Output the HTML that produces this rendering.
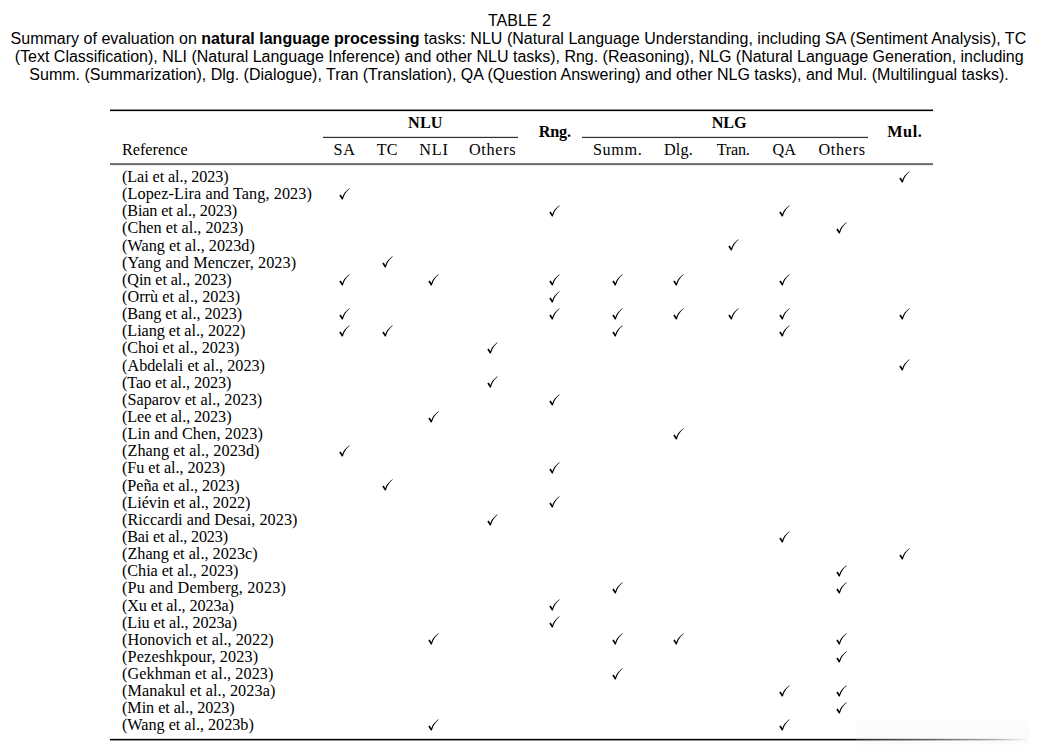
<!DOCTYPE html>
<html><head><meta charset="utf-8"><style>
html,body{margin:0;padding:0;background:#fff;}
body{width:1042px;height:752px;position:relative;overflow:hidden;color:#000;}
.cap{position:absolute;left:-2.6px;width:1042px;text-align:center;font-family:"Liberation Sans",sans-serif;font-size:16px;line-height:18px;white-space:nowrap;}
.t{position:absolute;font-family:"Liberation Serif",serif;white-space:nowrap;line-height:17.14px;height:17.14px;}
.r{position:absolute;background:#000;}
.c{position:absolute;width:12px;height:12px;}
</style></head><body>

<div class="cap" style="top:11.5px;margin-left:1.0px;letter-spacing:0px">TABLE 2</div>
<div class="cap" style="top:29.5px;margin-left:0.0px;letter-spacing:0.016px">Summary of evaluation on <b>natural language processing</b> tasks: NLU (Natural Language Understanding, including SA (Sentiment Analysis), TC</div>
<div class="cap" style="top:47.5px;margin-left:0.8px;letter-spacing:-0.011px">(Text Classification), NLI (Natural Language Inference) and other NLU tasks), Rng. (Reasoning), NLG (Natural Language Generation, including</div>
<div class="cap" style="top:65.5px;margin-left:0.6px;letter-spacing:0px">Summ. (Summarization), Dlg. (Dialogue), Tran (Translation), QA (Question Answering) and other NLG tasks), and Mul. (Multilingual tasks).</div>
<div class="r" style="left:110px;width:823px;top:109px;height:1px;background:rgb(140,140,140)"></div>
<div class="r" style="left:110px;width:823px;top:110px;height:1px;background:rgb(0,0,0)"></div>
<div class="r" style="left:110px;width:823px;top:111px;height:1px;background:rgb(225,225,225)"></div>
<div class="r" style="left:323px;width:195px;top:136px;height:1px;background:rgb(215,215,215)"></div>
<div class="r" style="left:323px;width:195px;top:137px;height:1px;background:rgb(50,50,50)"></div>
<div class="r" style="left:323px;width:195px;top:138px;height:1px;background:rgb(245,245,245)"></div>
<div class="r" style="left:582px;width:286px;top:136px;height:1px;background:rgb(215,215,215)"></div>
<div class="r" style="left:582px;width:286px;top:137px;height:1px;background:rgb(50,50,50)"></div>
<div class="r" style="left:582px;width:286px;top:138px;height:1px;background:rgb(245,245,245)"></div>
<div class="r" style="left:110px;width:823px;top:162px;height:1px;background:rgb(250,250,250)"></div>
<div class="r" style="left:110px;width:823px;top:163px;height:1px;background:rgb(125,125,125)"></div>
<div class="r" style="left:110px;width:823px;top:164px;height:1px;background:rgb(105,105,105)"></div>
<div class="r" style="left:110px;width:823px;top:165px;height:1px;background:rgb(235,235,235)"></div>
<div class="r" style="left:110px;width:746px;top:738px;height:1px;background:rgb(215,215,215)"></div>
<div class="r" style="left:110px;width:746px;top:739px;height:1px;background:rgb(0,0,0)"></div>
<div class="r" style="left:110px;width:746px;top:740px;height:1px;background:rgb(150,150,150)"></div>
<div style="position:absolute;left:856px;width:173px;top:721px;height:24px;background:#fbfbfb"></div><div style="position:absolute;left:856px;width:173px;top:739px;height:1px;background:linear-gradient(90deg,rgba(0,0,0,0.85),rgba(0,0,0,0.6) 45%,rgba(0,0,0,0.3) 80%,rgba(0,0,0,0))"></div><div style="position:absolute;left:856px;width:173px;top:740px;height:1px;background:linear-gradient(90deg,rgba(0,0,0,0.4),rgba(0,0,0,0.25) 45%,rgba(0,0,0,0.1) 80%,rgba(0,0,0,0))"></div><div style="position:absolute;left:856px;width:173px;top:738px;height:1px;background:linear-gradient(90deg,rgba(0,0,0,0.15),rgba(0,0,0,0.1) 45%,rgba(0,0,0,0.05) 80%,rgba(0,0,0,0))"></div>
<div class="t" style="left:325.3px;top:115.00px;width:200px;text-align:center;font-size:16.2px;font-weight:bold;letter-spacing:0.1px;text-indent:0.1px;">NLU</div>
<div class="t" style="left:629.2px;top:115.00px;width:200px;text-align:center;font-size:16.2px;font-weight:bold;letter-spacing:-0.2px;text-indent:-0.2px;">NLG</div>
<div class="t" style="left:454.9px;top:124.00px;width:200px;text-align:center;font-size:16.2px;font-weight:bold;letter-spacing:-0.1px;text-indent:-0.1px;">Rng.</div>
<div class="t" style="left:804.5px;top:124.00px;width:200px;text-align:center;font-size:16.2px;font-weight:bold;letter-spacing:0.6px;text-indent:0.6px;">Mul.</div>
<div class="t" style="left:244.2px;top:142.00px;width:200px;text-align:center;font-size:16.2px;letter-spacing:0.8px;text-indent:0.8px;">SA</div>
<div class="t" style="left:287.2px;top:142.00px;width:200px;text-align:center;font-size:16.2px;">TC</div>
<div class="t" style="left:333.6px;top:142.00px;width:200px;text-align:center;font-size:16.2px;letter-spacing:0.8px;text-indent:0.8px;">NLI</div>
<div class="t" style="left:392.3px;top:142.00px;width:200px;text-align:center;font-size:16.2px;letter-spacing:0.7px;text-indent:0.7px;">Others</div>
<div class="t" style="left:517.4px;top:142.00px;width:200px;text-align:center;font-size:16.2px;letter-spacing:0.65px;text-indent:0.65px;">Summ.</div>
<div class="t" style="left:578.4px;top:142.00px;width:200px;text-align:center;font-size:16.2px;letter-spacing:0.2px;text-indent:0.2px;">Dlg.</div>
<div class="t" style="left:633.3px;top:142.00px;width:200px;text-align:center;font-size:16.2px;letter-spacing:-0.2px;text-indent:-0.2px;">Tran.</div>
<div class="t" style="left:684.2px;top:142.00px;width:200px;text-align:center;font-size:16.2px;letter-spacing:0.1px;text-indent:0.1px;">QA</div>
<div class="t" style="left:741.8px;top:142.00px;width:200px;text-align:center;font-size:16.2px;letter-spacing:0.7px;text-indent:0.7px;">Others</div>
<div class="t" style="left:122px;top:142.00px;font-size:16.2px;letter-spacing:0px">Reference</div>
<div class="t" style="left:122px;top:169.00px;font-size:16.2px;letter-spacing:-0.094px">(Lai et al., 2023)</div>
<svg class="c" style="left:898.90px;top:170.70px" viewBox="0 0 12 12"><path d="M0.3 7.4 L1.7 6.5 L3.4 9.2 Q4.6 4.6 10.4 0.3 L10.8 0.6 Q5.4 5.2 3.8 11.6 L2.9 11.6 Z" fill="#000"/></svg>
<div class="t" style="left:122px;top:186.00px;font-size:16.2px;letter-spacing:0.096px">(Lopez-Lira and Tang, 2023)</div>
<svg class="c" style="left:338.60px;top:187.84px" viewBox="0 0 12 12"><path d="M0.3 7.4 L1.7 6.5 L3.4 9.2 Q4.6 4.6 10.4 0.3 L10.8 0.6 Q5.4 5.2 3.8 11.6 L2.9 11.6 Z" fill="#000"/></svg>
<div class="t" style="left:122px;top:203.00px;font-size:16.2px;letter-spacing:-0.128px">(Bian et al., 2023)</div>
<svg class="c" style="left:549.40px;top:204.98px" viewBox="0 0 12 12"><path d="M0.3 7.4 L1.7 6.5 L3.4 9.2 Q4.6 4.6 10.4 0.3 L10.8 0.6 Q5.4 5.2 3.8 11.6 L2.9 11.6 Z" fill="#000"/></svg>
<svg class="c" style="left:778.60px;top:204.98px" viewBox="0 0 12 12"><path d="M0.3 7.4 L1.7 6.5 L3.4 9.2 Q4.6 4.6 10.4 0.3 L10.8 0.6 Q5.4 5.2 3.8 11.6 L2.9 11.6 Z" fill="#000"/></svg>
<div class="t" style="left:122px;top:220.00px;font-size:16.2px;letter-spacing:0.022px">(Chen et al., 2023)</div>
<svg class="c" style="left:836.20px;top:222.12px" viewBox="0 0 12 12"><path d="M0.3 7.4 L1.7 6.5 L3.4 9.2 Q4.6 4.6 10.4 0.3 L10.8 0.6 Q5.4 5.2 3.8 11.6 L2.9 11.6 Z" fill="#000"/></svg>
<div class="t" style="left:122px;top:238.00px;font-size:16.2px;letter-spacing:0.032px">(Wang et al., 2023d)</div>
<svg class="c" style="left:727.70px;top:239.26px" viewBox="0 0 12 12"><path d="M0.3 7.4 L1.7 6.5 L3.4 9.2 Q4.6 4.6 10.4 0.3 L10.8 0.6 Q5.4 5.2 3.8 11.6 L2.9 11.6 Z" fill="#000"/></svg>
<div class="t" style="left:122px;top:255.00px;font-size:16.2px;letter-spacing:0.087px">(Yang and Menczer, 2023)</div>
<svg class="c" style="left:381.60px;top:256.40px" viewBox="0 0 12 12"><path d="M0.3 7.4 L1.7 6.5 L3.4 9.2 Q4.6 4.6 10.4 0.3 L10.8 0.6 Q5.4 5.2 3.8 11.6 L2.9 11.6 Z" fill="#000"/></svg>
<div class="t" style="left:122px;top:272.00px;font-size:16.2px;letter-spacing:-0.088px">(Qin et al., 2023)</div>
<svg class="c" style="left:338.60px;top:273.54px" viewBox="0 0 12 12"><path d="M0.3 7.4 L1.7 6.5 L3.4 9.2 Q4.6 4.6 10.4 0.3 L10.8 0.6 Q5.4 5.2 3.8 11.6 L2.9 11.6 Z" fill="#000"/></svg>
<svg class="c" style="left:428.00px;top:273.54px" viewBox="0 0 12 12"><path d="M0.3 7.4 L1.7 6.5 L3.4 9.2 Q4.6 4.6 10.4 0.3 L10.8 0.6 Q5.4 5.2 3.8 11.6 L2.9 11.6 Z" fill="#000"/></svg>
<svg class="c" style="left:549.40px;top:273.54px" viewBox="0 0 12 12"><path d="M0.3 7.4 L1.7 6.5 L3.4 9.2 Q4.6 4.6 10.4 0.3 L10.8 0.6 Q5.4 5.2 3.8 11.6 L2.9 11.6 Z" fill="#000"/></svg>
<svg class="c" style="left:611.80px;top:273.54px" viewBox="0 0 12 12"><path d="M0.3 7.4 L1.7 6.5 L3.4 9.2 Q4.6 4.6 10.4 0.3 L10.8 0.6 Q5.4 5.2 3.8 11.6 L2.9 11.6 Z" fill="#000"/></svg>
<svg class="c" style="left:672.80px;top:273.54px" viewBox="0 0 12 12"><path d="M0.3 7.4 L1.7 6.5 L3.4 9.2 Q4.6 4.6 10.4 0.3 L10.8 0.6 Q5.4 5.2 3.8 11.6 L2.9 11.6 Z" fill="#000"/></svg>
<svg class="c" style="left:778.60px;top:273.54px" viewBox="0 0 12 12"><path d="M0.3 7.4 L1.7 6.5 L3.4 9.2 Q4.6 4.6 10.4 0.3 L10.8 0.6 Q5.4 5.2 3.8 11.6 L2.9 11.6 Z" fill="#000"/></svg>
<div class="t" style="left:122px;top:289.00px;font-size:16.2px;letter-spacing:0.044px">(Orrù et al., 2023)</div>
<svg class="c" style="left:549.40px;top:290.68px" viewBox="0 0 12 12"><path d="M0.3 7.4 L1.7 6.5 L3.4 9.2 Q4.6 4.6 10.4 0.3 L10.8 0.6 Q5.4 5.2 3.8 11.6 L2.9 11.6 Z" fill="#000"/></svg>
<div class="t" style="left:122px;top:306.00px;font-size:16.2px;letter-spacing:-0.044px">(Bang et al., 2023)</div>
<svg class="c" style="left:338.60px;top:307.82px" viewBox="0 0 12 12"><path d="M0.3 7.4 L1.7 6.5 L3.4 9.2 Q4.6 4.6 10.4 0.3 L10.8 0.6 Q5.4 5.2 3.8 11.6 L2.9 11.6 Z" fill="#000"/></svg>
<svg class="c" style="left:549.40px;top:307.82px" viewBox="0 0 12 12"><path d="M0.3 7.4 L1.7 6.5 L3.4 9.2 Q4.6 4.6 10.4 0.3 L10.8 0.6 Q5.4 5.2 3.8 11.6 L2.9 11.6 Z" fill="#000"/></svg>
<svg class="c" style="left:611.80px;top:307.82px" viewBox="0 0 12 12"><path d="M0.3 7.4 L1.7 6.5 L3.4 9.2 Q4.6 4.6 10.4 0.3 L10.8 0.6 Q5.4 5.2 3.8 11.6 L2.9 11.6 Z" fill="#000"/></svg>
<svg class="c" style="left:672.80px;top:307.82px" viewBox="0 0 12 12"><path d="M0.3 7.4 L1.7 6.5 L3.4 9.2 Q4.6 4.6 10.4 0.3 L10.8 0.6 Q5.4 5.2 3.8 11.6 L2.9 11.6 Z" fill="#000"/></svg>
<svg class="c" style="left:727.70px;top:307.82px" viewBox="0 0 12 12"><path d="M0.3 7.4 L1.7 6.5 L3.4 9.2 Q4.6 4.6 10.4 0.3 L10.8 0.6 Q5.4 5.2 3.8 11.6 L2.9 11.6 Z" fill="#000"/></svg>
<svg class="c" style="left:778.60px;top:307.82px" viewBox="0 0 12 12"><path d="M0.3 7.4 L1.7 6.5 L3.4 9.2 Q4.6 4.6 10.4 0.3 L10.8 0.6 Q5.4 5.2 3.8 11.6 L2.9 11.6 Z" fill="#000"/></svg>
<svg class="c" style="left:898.90px;top:307.82px" viewBox="0 0 12 12"><path d="M0.3 7.4 L1.7 6.5 L3.4 9.2 Q4.6 4.6 10.4 0.3 L10.8 0.6 Q5.4 5.2 3.8 11.6 L2.9 11.6 Z" fill="#000"/></svg>
<div class="t" style="left:122px;top:323.00px;font-size:16.2px;letter-spacing:-0.058px">(Liang et al., 2022)</div>
<svg class="c" style="left:338.60px;top:324.96px" viewBox="0 0 12 12"><path d="M0.3 7.4 L1.7 6.5 L3.4 9.2 Q4.6 4.6 10.4 0.3 L10.8 0.6 Q5.4 5.2 3.8 11.6 L2.9 11.6 Z" fill="#000"/></svg>
<svg class="c" style="left:381.60px;top:324.96px" viewBox="0 0 12 12"><path d="M0.3 7.4 L1.7 6.5 L3.4 9.2 Q4.6 4.6 10.4 0.3 L10.8 0.6 Q5.4 5.2 3.8 11.6 L2.9 11.6 Z" fill="#000"/></svg>
<svg class="c" style="left:611.80px;top:324.96px" viewBox="0 0 12 12"><path d="M0.3 7.4 L1.7 6.5 L3.4 9.2 Q4.6 4.6 10.4 0.3 L10.8 0.6 Q5.4 5.2 3.8 11.6 L2.9 11.6 Z" fill="#000"/></svg>
<svg class="c" style="left:778.60px;top:324.96px" viewBox="0 0 12 12"><path d="M0.3 7.4 L1.7 6.5 L3.4 9.2 Q4.6 4.6 10.4 0.3 L10.8 0.6 Q5.4 5.2 3.8 11.6 L2.9 11.6 Z" fill="#000"/></svg>
<div class="t" style="left:122px;top:340.00px;font-size:16.2px;letter-spacing:-0.050px">(Choi et al., 2023)</div>
<svg class="c" style="left:486.70px;top:342.10px" viewBox="0 0 12 12"><path d="M0.3 7.4 L1.7 6.5 L3.4 9.2 Q4.6 4.6 10.4 0.3 L10.8 0.6 Q5.4 5.2 3.8 11.6 L2.9 11.6 Z" fill="#000"/></svg>
<div class="t" style="left:122px;top:358.00px;font-size:16.2px;letter-spacing:0.023px">(Abdelali et al., 2023)</div>
<svg class="c" style="left:898.90px;top:359.24px" viewBox="0 0 12 12"><path d="M0.3 7.4 L1.7 6.5 L3.4 9.2 Q4.6 4.6 10.4 0.3 L10.8 0.6 Q5.4 5.2 3.8 11.6 L2.9 11.6 Z" fill="#000"/></svg>
<div class="t" style="left:122px;top:375.00px;font-size:16.2px;letter-spacing:-0.088px">(Tao et al., 2023)</div>
<svg class="c" style="left:486.70px;top:376.38px" viewBox="0 0 12 12"><path d="M0.3 7.4 L1.7 6.5 L3.4 9.2 Q4.6 4.6 10.4 0.3 L10.8 0.6 Q5.4 5.2 3.8 11.6 L2.9 11.6 Z" fill="#000"/></svg>
<div class="t" style="left:122px;top:392.00px;font-size:16.2px;letter-spacing:0.019px">(Saparov et al., 2023)</div>
<svg class="c" style="left:549.40px;top:393.52px" viewBox="0 0 12 12"><path d="M0.3 7.4 L1.7 6.5 L3.4 9.2 Q4.6 4.6 10.4 0.3 L10.8 0.6 Q5.4 5.2 3.8 11.6 L2.9 11.6 Z" fill="#000"/></svg>
<div class="t" style="left:122px;top:409.00px;font-size:16.2px;letter-spacing:-0.088px">(Lee et al., 2023)</div>
<svg class="c" style="left:428.00px;top:410.66px" viewBox="0 0 12 12"><path d="M0.3 7.4 L1.7 6.5 L3.4 9.2 Q4.6 4.6 10.4 0.3 L10.8 0.6 Q5.4 5.2 3.8 11.6 L2.9 11.6 Z" fill="#000"/></svg>
<div class="t" style="left:122px;top:426.00px;font-size:16.2px;letter-spacing:0.074px">(Lin and Chen, 2023)</div>
<svg class="c" style="left:672.80px;top:427.80px" viewBox="0 0 12 12"><path d="M0.3 7.4 L1.7 6.5 L3.4 9.2 Q4.6 4.6 10.4 0.3 L10.8 0.6 Q5.4 5.2 3.8 11.6 L2.9 11.6 Z" fill="#000"/></svg>
<div class="t" style="left:122px;top:443.00px;font-size:16.2px;letter-spacing:0.065px">(Zhang et al., 2023d)</div>
<svg class="c" style="left:338.60px;top:444.94px" viewBox="0 0 12 12"><path d="M0.3 7.4 L1.7 6.5 L3.4 9.2 Q4.6 4.6 10.4 0.3 L10.8 0.6 Q5.4 5.2 3.8 11.6 L2.9 11.6 Z" fill="#000"/></svg>
<div class="t" style="left:122px;top:460.00px;font-size:16.2px;letter-spacing:-0.044px">(Fu et al., 2023)</div>
<svg class="c" style="left:549.40px;top:462.08px" viewBox="0 0 12 12"><path d="M0.3 7.4 L1.7 6.5 L3.4 9.2 Q4.6 4.6 10.4 0.3 L10.8 0.6 Q5.4 5.2 3.8 11.6 L2.9 11.6 Z" fill="#000"/></svg>
<div class="t" style="left:122px;top:478.00px;font-size:16.2px;letter-spacing:-0.039px">(Peña et al., 2023)</div>
<svg class="c" style="left:381.60px;top:479.22px" viewBox="0 0 12 12"><path d="M0.3 7.4 L1.7 6.5 L3.4 9.2 Q4.6 4.6 10.4 0.3 L10.8 0.6 Q5.4 5.2 3.8 11.6 L2.9 11.6 Z" fill="#000"/></svg>
<div class="t" style="left:122px;top:495.00px;font-size:16.2px;letter-spacing:-0.030px">(Liévin et al., 2022)</div>
<svg class="c" style="left:549.40px;top:496.36px" viewBox="0 0 12 12"><path d="M0.3 7.4 L1.7 6.5 L3.4 9.2 Q4.6 4.6 10.4 0.3 L10.8 0.6 Q5.4 5.2 3.8 11.6 L2.9 11.6 Z" fill="#000"/></svg>
<div class="t" style="left:122px;top:512.00px;font-size:16.2px;letter-spacing:0.040px">(Riccardi and Desai, 2023)</div>
<svg class="c" style="left:486.70px;top:513.50px" viewBox="0 0 12 12"><path d="M0.3 7.4 L1.7 6.5 L3.4 9.2 Q4.6 4.6 10.4 0.3 L10.8 0.6 Q5.4 5.2 3.8 11.6 L2.9 11.6 Z" fill="#000"/></svg>
<div class="t" style="left:122px;top:529.00px;font-size:16.2px;letter-spacing:-0.188px">(Bai et al., 2023)</div>
<svg class="c" style="left:778.60px;top:530.64px" viewBox="0 0 12 12"><path d="M0.3 7.4 L1.7 6.5 L3.4 9.2 Q4.6 4.6 10.4 0.3 L10.8 0.6 Q5.4 5.2 3.8 11.6 L2.9 11.6 Z" fill="#000"/></svg>
<div class="t" style="left:122px;top:546.00px;font-size:16.2px;letter-spacing:0.015px">(Zhang et al., 2023c)</div>
<svg class="c" style="left:898.90px;top:547.78px" viewBox="0 0 12 12"><path d="M0.3 7.4 L1.7 6.5 L3.4 9.2 Q4.6 4.6 10.4 0.3 L10.8 0.6 Q5.4 5.2 3.8 11.6 L2.9 11.6 Z" fill="#000"/></svg>
<div class="t" style="left:122px;top:563.00px;font-size:16.2px;letter-spacing:-0.050px">(Chia et al., 2023)</div>
<svg class="c" style="left:836.20px;top:564.92px" viewBox="0 0 12 12"><path d="M0.3 7.4 L1.7 6.5 L3.4 9.2 Q4.6 4.6 10.4 0.3 L10.8 0.6 Q5.4 5.2 3.8 11.6 L2.9 11.6 Z" fill="#000"/></svg>
<div class="t" style="left:122px;top:580.00px;font-size:16.2px;letter-spacing:0.195px">(Pu and Demberg, 2023)</div>
<svg class="c" style="left:611.80px;top:582.06px" viewBox="0 0 12 12"><path d="M0.3 7.4 L1.7 6.5 L3.4 9.2 Q4.6 4.6 10.4 0.3 L10.8 0.6 Q5.4 5.2 3.8 11.6 L2.9 11.6 Z" fill="#000"/></svg>
<svg class="c" style="left:836.20px;top:582.06px" viewBox="0 0 12 12"><path d="M0.3 7.4 L1.7 6.5 L3.4 9.2 Q4.6 4.6 10.4 0.3 L10.8 0.6 Q5.4 5.2 3.8 11.6 L2.9 11.6 Z" fill="#000"/></svg>
<div class="t" style="left:122px;top:598.00px;font-size:16.2px;letter-spacing:-0.106px">(Xu et al., 2023a)</div>
<svg class="c" style="left:549.40px;top:599.20px" viewBox="0 0 12 12"><path d="M0.3 7.4 L1.7 6.5 L3.4 9.2 Q4.6 4.6 10.4 0.3 L10.8 0.6 Q5.4 5.2 3.8 11.6 L2.9 11.6 Z" fill="#000"/></svg>
<div class="t" style="left:122px;top:615.00px;font-size:16.2px;letter-spacing:-0.072px">(Liu et al., 2023a)</div>
<svg class="c" style="left:549.40px;top:616.34px" viewBox="0 0 12 12"><path d="M0.3 7.4 L1.7 6.5 L3.4 9.2 Q4.6 4.6 10.4 0.3 L10.8 0.6 Q5.4 5.2 3.8 11.6 L2.9 11.6 Z" fill="#000"/></svg>
<div class="t" style="left:122px;top:632.00px;font-size:16.2px;letter-spacing:0.050px">(Honovich et al., 2022)</div>
<svg class="c" style="left:428.00px;top:633.48px" viewBox="0 0 12 12"><path d="M0.3 7.4 L1.7 6.5 L3.4 9.2 Q4.6 4.6 10.4 0.3 L10.8 0.6 Q5.4 5.2 3.8 11.6 L2.9 11.6 Z" fill="#000"/></svg>
<svg class="c" style="left:611.80px;top:633.48px" viewBox="0 0 12 12"><path d="M0.3 7.4 L1.7 6.5 L3.4 9.2 Q4.6 4.6 10.4 0.3 L10.8 0.6 Q5.4 5.2 3.8 11.6 L2.9 11.6 Z" fill="#000"/></svg>
<svg class="c" style="left:672.80px;top:633.48px" viewBox="0 0 12 12"><path d="M0.3 7.4 L1.7 6.5 L3.4 9.2 Q4.6 4.6 10.4 0.3 L10.8 0.6 Q5.4 5.2 3.8 11.6 L2.9 11.6 Z" fill="#000"/></svg>
<svg class="c" style="left:836.20px;top:633.48px" viewBox="0 0 12 12"><path d="M0.3 7.4 L1.7 6.5 L3.4 9.2 Q4.6 4.6 10.4 0.3 L10.8 0.6 Q5.4 5.2 3.8 11.6 L2.9 11.6 Z" fill="#000"/></svg>
<div class="t" style="left:122px;top:649.00px;font-size:16.2px;letter-spacing:0.161px">(Pezeshkpour, 2023)</div>
<svg class="c" style="left:836.20px;top:650.62px" viewBox="0 0 12 12"><path d="M0.3 7.4 L1.7 6.5 L3.4 9.2 Q4.6 4.6 10.4 0.3 L10.8 0.6 Q5.4 5.2 3.8 11.6 L2.9 11.6 Z" fill="#000"/></svg>
<div class="t" style="left:122px;top:666.00px;font-size:16.2px;letter-spacing:0.081px">(Gekhman et al., 2023)</div>
<svg class="c" style="left:611.80px;top:667.76px" viewBox="0 0 12 12"><path d="M0.3 7.4 L1.7 6.5 L3.4 9.2 Q4.6 4.6 10.4 0.3 L10.8 0.6 Q5.4 5.2 3.8 11.6 L2.9 11.6 Z" fill="#000"/></svg>
<div class="t" style="left:122px;top:683.00px;font-size:16.2px;letter-spacing:0.082px">(Manakul et al., 2023a)</div>
<svg class="c" style="left:778.60px;top:684.90px" viewBox="0 0 12 12"><path d="M0.3 7.4 L1.7 6.5 L3.4 9.2 Q4.6 4.6 10.4 0.3 L10.8 0.6 Q5.4 5.2 3.8 11.6 L2.9 11.6 Z" fill="#000"/></svg>
<svg class="c" style="left:836.20px;top:684.90px" viewBox="0 0 12 12"><path d="M0.3 7.4 L1.7 6.5 L3.4 9.2 Q4.6 4.6 10.4 0.3 L10.8 0.6 Q5.4 5.2 3.8 11.6 L2.9 11.6 Z" fill="#000"/></svg>
<div class="t" style="left:122px;top:700.00px;font-size:16.2px;letter-spacing:-0.059px">(Min et al., 2023)</div>
<svg class="c" style="left:836.20px;top:702.04px" viewBox="0 0 12 12"><path d="M0.3 7.4 L1.7 6.5 L3.4 9.2 Q4.6 4.6 10.4 0.3 L10.8 0.6 Q5.4 5.2 3.8 11.6 L2.9 11.6 Z" fill="#000"/></svg>
<div class="t" style="left:122px;top:717.00px;font-size:16.2px;letter-spacing:-0.021px">(Wang et al., 2023b)</div>
<svg class="c" style="left:428.00px;top:719.18px" viewBox="0 0 12 12"><path d="M0.3 7.4 L1.7 6.5 L3.4 9.2 Q4.6 4.6 10.4 0.3 L10.8 0.6 Q5.4 5.2 3.8 11.6 L2.9 11.6 Z" fill="#000"/></svg>
<svg class="c" style="left:778.60px;top:719.18px" viewBox="0 0 12 12"><path d="M0.3 7.4 L1.7 6.5 L3.4 9.2 Q4.6 4.6 10.4 0.3 L10.8 0.6 Q5.4 5.2 3.8 11.6 L2.9 11.6 Z" fill="#000"/></svg>
</body></html>
